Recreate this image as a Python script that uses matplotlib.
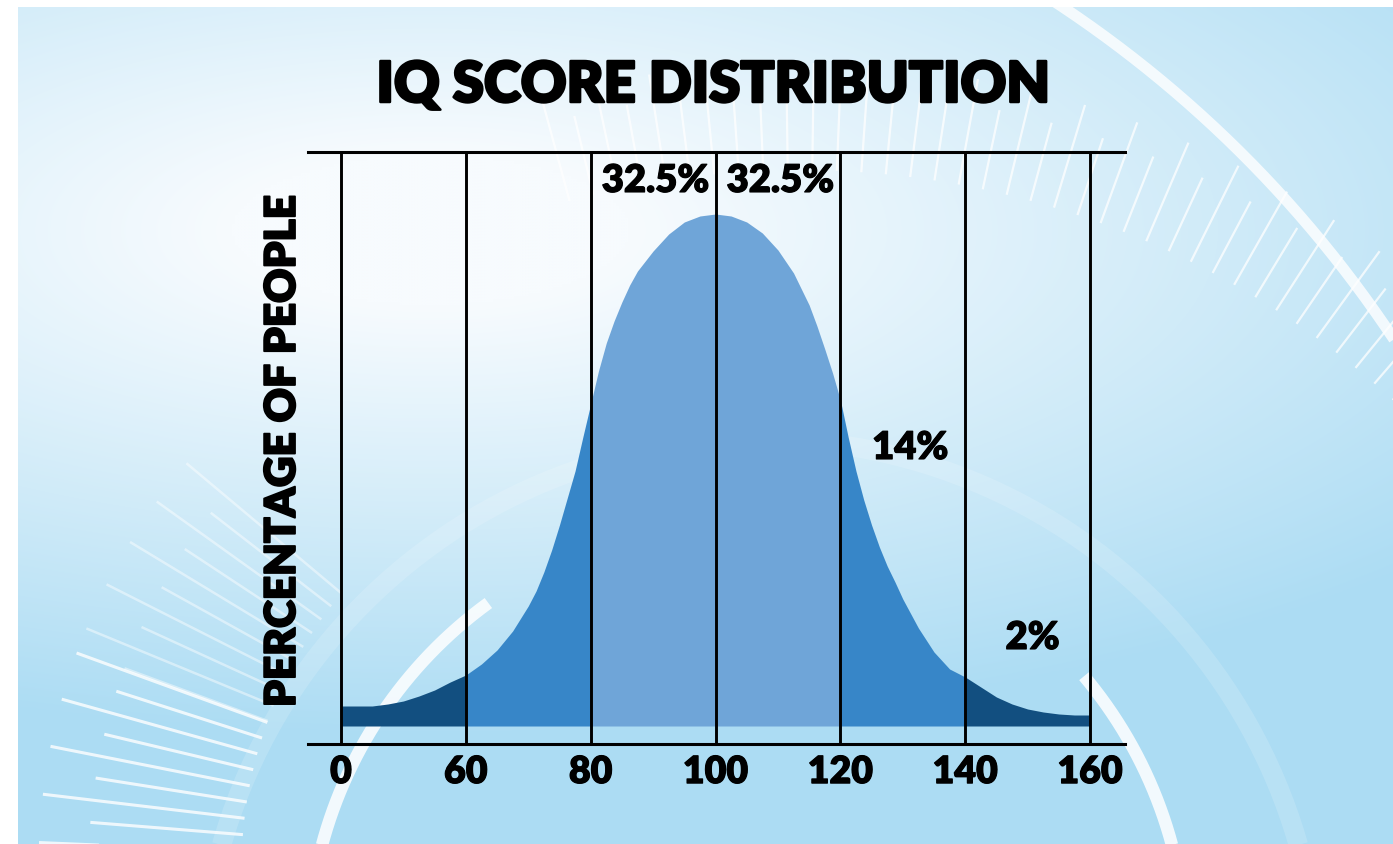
import numpy as np
import matplotlib.pyplot as plt
import matplotlib.patheffects as pe
from matplotlib.colors import to_rgb

# [1] Data
iq_labels = ["0", "60", "80", "100", "120", "140", "160"]

# curve samples: x in "slot" units (one slot between two IQ labels), height in arbitrary units
curve_x = [0.0, 0.125, 0.25, 0.375, 0.5, 0.625, 0.75, 0.875,
           1.0, 1.125, 1.25, 1.375, 1.5, 1.5625, 1.625, 1.6875, 1.75, 1.8125, 1.875, 1.9375,
           2.0, 2.0625, 2.125, 2.1875, 2.25, 2.3125, 2.375, 2.5, 2.625, 2.75, 2.875,
           3.0, 3.125, 3.25, 3.375, 3.5, 3.625, 3.6875, 3.75, 3.8125, 3.875, 3.9375,
           4.0, 4.0625, 4.125, 4.1875, 4.25, 4.3125, 4.375, 4.4375, 4.5, 4.625, 4.75, 4.875,
           5.0, 5.125, 5.25, 5.375, 5.5, 5.625, 5.75, 5.875, 6.0]
curve_y = [20, 20, 20, 22, 25, 30, 36, 44,
           51, 62, 76, 95, 120, 135, 154, 176, 201, 228, 255, 289,
           322, 355, 383, 405, 424, 441, 455, 475, 492, 504, 510,
           512, 510, 504, 493, 476, 453, 437, 421, 400, 377, 353,
           326, 289, 255, 226, 201, 179, 160, 144, 127, 98, 74, 57,
           49, 39, 29, 22, 17, 14, 12, 11, 11]

share_labels = ["32.5%", "32.5%", "14%", "2%"]

title = "IQ SCORE DISTRIBUTION"
ylabel = "PERCENTAGE OF PEOPLE"

# [2] Styles
dark = "#124F80"
mid = "#3786C8"
light = "#6FA5D8"
band_colors = [dark, mid, light, light, mid, dark]
FONT = ["Lato", "DejaVu Sans"]
bold = [pe.withStroke(linewidth=0.8, foreground="black")]

W, H = 1393, 845
fig = plt.figure(figsize=(W / 100, H / 100), dpi=100, facecolor="white")

# [3] Background (gradient + decorative arcs / radial dashes)
bg = fig.add_axes([0, 0, 1, 1], zorder=0)
bg.set_xlim(0, W)
bg.set_ylim(H, 0)
bg.axis("off")
yy, xx = np.mgrid[8:H:3, 18:W:3]
d = np.sqrt(((xx - 430) / 1000.0) ** 2 + ((yy - 230) / 380.0) ** 2)
t = np.clip((d - 0.2) * 0.85, 0, 0.95)[..., None]
c0 = np.array(to_rgb("#F7FBFE"))
c1 = np.array(to_rgb("#A9DBF3"))
img = c0 * (1 - t) + c1 * t
bg.imshow(img, extent=[18, W, H, 8], aspect="auto", interpolation="bilinear", zorder=0)

def arc(cx, cy, r, a0, a1, **kw):
    a = np.radians(np.linspace(a0, a1, 200))
    bg.plot(cx + r * np.cos(a), cy - r * np.sin(a), solid_capstyle="butt", **kw)

arc(747, 960, 440, 126, 168, color="white", lw=9, alpha=0.85, zorder=1)
arc(747, 960, 440, 12, 40, color="white", lw=9, alpha=0.85, zorder=1)
arc(400, 1000, 1193, 33, 57, color="white", lw=8, alpha=0.8, zorder=1)
arc(760, 1000, 560, 10, 170, color="white", lw=14, alpha=0.15, zorder=1)

def dashes(cx, cy, r0, r1, a0, a1, step, alpha, lw):
    for k, a in enumerate(np.arange(a0, a1, step)):
        ar = np.radians(a)
        rr1 = r1 if k % 2 == 0 else r1 - 0.25 * (r1 - r0)
        bg.plot([cx + r0 * np.cos(ar), cx + rr1 * np.cos(ar)],
                [cy - r0 * np.sin(ar), cy - rr1 * np.sin(ar)],
                color="white", lw=lw, alpha=alpha, zorder=1)

dashes(800, 1050, 880, 985, 38, 106, 1.6, 0.75, 1.6)
dashes(670, 870, 430, 630, 140, 160, 2.2, 0.45, 1.8)
dashes(670, 870, 430, 630, 160, 182, 2.2, 0.8, 2.2)

# [4] Main chart
ax = fig.add_axes([308 / W, 100 / H, 817 / W, 592 / H], zorder=2)
ax.patch.set_alpha(0)

cx = np.array(curve_x)
cy = np.array(curve_y)
for i, col in enumerate(band_colors):
    m = (cx >= i) & (cx <= i + 1)
    ax.fill_between(cx[m], 0, cy[m], color=col, lw=0, zorder=1)

for p in range(len(iq_labels)):
    ax.axvline(p, color="black", lw=2.1, zorder=3)

ax.set_xlim(-0.264, 6.28)
ax.set_ylim(-18, 574)
ax.set_xticks(range(len(iq_labels)))
ax.set_xticklabels(iq_labels, fontsize=27, fontweight="heavy", family=FONT)
for lab in ax.get_xticklabels():
    lab.set_path_effects(bold)
ax.set_yticks([])
ax.tick_params(axis="x", length=0, pad=8)
for s in ["left", "right"]:
    ax.spines[s].set_visible(False)
for s in ["top", "bottom"]:
    ax.spines[s].set_linewidth(2.2)
    ax.spines[s].set_color("black")

# share labels inside the slots
label_xy = [(2.52, 545), (3.52, 545), (4.56, 278), (5.54, 88)]
for txt, (x, y) in zip(share_labels, label_xy):
    ax.text(x, y, txt, ha="center", va="center", fontsize=27.5,
            fontweight="heavy", family=FONT, zorder=4, path_effects=bold)

# [5] Title and y label
fig.text(714 / W, 1 - 86 / H, title, ha="center", va="center",
         fontsize=40.5, fontweight="heavy", family=FONT,
         path_effects=[pe.withStroke(linewidth=1.8, foreground="black")])
fig.text(283 / W, 1 - 452 / H, ylabel, ha="center", va="center", rotation=90,
         fontsize=30.5, fontweight="heavy", family=FONT,
         path_effects=[pe.withStroke(linewidth=1.3, foreground="black")])

fig.savefig("out.png", dpi=100, facecolor="white")
